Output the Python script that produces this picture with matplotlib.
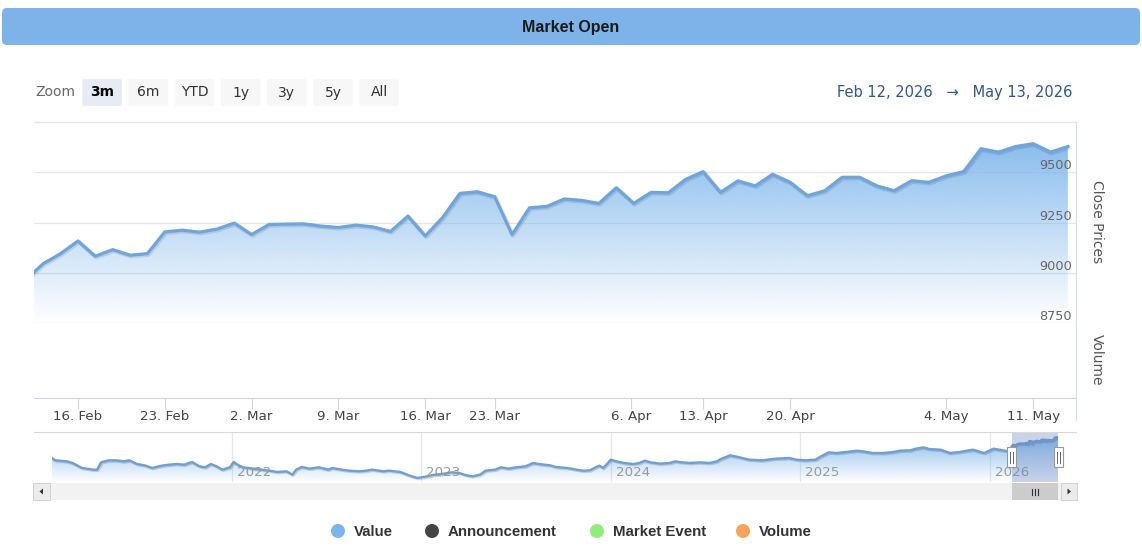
import numpy as np
import pandas as pd
import matplotlib
matplotlib.use("Agg")
import matplotlib.pyplot as plt
from matplotlib.patches import FancyBboxPatch, Rectangle, Circle, Polygon
from matplotlib import transforms as mtransforms
from matplotlib.colors import to_rgb

plt.rcParams["font.family"] = ["DejaVu Sans"]

W, H = 1142, 558

# --- data -------------------------------------------------------------
# trading days shown in the 3m window (Feb 11 is just left of the edge)
first_day, last_day = "2026-02-11", "2026-05-13"
holidays = ["2026-03-20", "2026-04-02", "2026-04-03", "2026-04-06", "2026-05-01"]

close_prices = [
    8965,
    9045, 9095, 9158, 9082, 9115, 9087, 9095, 9203, 9212, 9202,
    9217, 9247, 9190, 9240, 9242, 9243, 9232, 9225, 9237, 9228,
    9205, 9282, 9183, 9275, 9395, 9403, 9378, 9190, 9323, 9330,
    9367, 9360, 9345, 9423, 9345, 9400, 9398, 9465, 9503, 9400,
    9457, 9432, 9490, 9450, 9383, 9408, 9475, 9475, 9432, 9408,
    9458, 9450, 9482, 9503, 9617, 9600, 9628, 9642, 9600, 9628,
]

tick_dates = ["2026-02-16", "2026-02-23", "2026-03-02", "2026-03-09", "2026-03-16",
              "2026-03-23", "2026-04-06", "2026-04-13", "2026-04-20", "2026-05-04",
              "2026-05-11"]
price_labels = [8750, 9000, 9250, 9500]
price_grid = [8750, 9000, 9250, 9500, 9750]

# navigator history (decimal year, close) up to the 3m window
nav_years = [
    2021.05, 2021.07, 2021.13, 2021.16, 2021.21, 2021.27, 2021.29, 2021.31, 2021.35, 2021.39,
    2021.43, 2021.46, 2021.50, 2021.54, 2021.58, 2021.63, 2021.67, 2021.71, 2021.75, 2021.79,
    2021.83, 2021.86, 2021.89, 2021.92, 2021.95, 2021.99, 2022.01, 2022.03, 2022.06, 2022.09,
    2022.15, 2022.20, 2022.24, 2022.29, 2022.32, 2022.34, 2022.37, 2022.41, 2022.46, 2022.51,
    2022.53, 2022.58, 2022.62, 2022.67, 2022.71, 2022.74, 2022.80, 2022.83, 2022.89, 2022.94,
    2022.98, 2023.03, 2023.07, 2023.11, 2023.16, 2023.20, 2023.24, 2023.27, 2023.31, 2023.34,
    2023.39, 2023.42, 2023.46, 2023.50, 2023.55, 2023.59, 2023.62, 2023.68, 2023.71, 2023.77,
    2023.82, 2023.85, 2023.89, 2023.92, 2023.94, 2023.96, 2023.98, 2024.00, 2024.03, 2024.07,
    2024.12, 2024.15, 2024.18, 2024.21, 2024.26, 2024.31, 2024.34, 2024.36, 2024.42, 2024.47,
    2024.52, 2024.56, 2024.58, 2024.63, 2024.68, 2024.73, 2024.80, 2024.87, 2024.94, 2024.98,
    2025.03, 2025.08, 2025.11, 2025.15, 2025.19, 2025.24, 2025.30, 2025.33, 2025.38, 2025.44,
    2025.49, 2025.53, 2025.58, 2025.61, 2025.65, 2025.68, 2025.74, 2025.79, 2025.84, 2025.88,
    2025.91, 2025.97, 2026.02, 2026.05, 2026.10,
]
nav_values = [
    8296, 8145, 8080, 7972, 7646, 7538, 7538, 8015, 8145, 8145,
    8080, 8145, 7906, 7820, 7646, 7798, 7863, 7906, 7863, 8036,
    7755, 7690, 7906, 7755, 7538, 7690, 8036, 7863, 7690, 7646,
    7538, 7473, 7386, 7430, 7213, 7538, 7711, 7603, 7690, 7538,
    7646, 7538, 7473, 7430, 7473, 7538, 7430, 7473, 7386, 7148,
    6996, 7105, 7213, 7256, 7365, 7321, 7170, 7105, 7213, 7473,
    7538, 7690, 7603, 7690, 7755, 7972, 7906, 7820, 7711, 7646,
    7538, 7473, 7495, 7690, 7798, 7646, 7906, 8188, 8080, 7972,
    7906, 7972, 8123, 8015, 7928, 7972, 8080, 8036, 7972, 8015,
    7972, 8080, 8231, 8470, 8340, 8188, 8145, 8253, 8296, 8188,
    8145, 8188, 8405, 8665, 8621, 8686, 8773, 8730, 8621, 8621,
    8686, 8773, 8795, 8903, 8990, 8881, 8838, 8621, 8686, 8773,
    8838, 8621, 8903, 8838, 8730,
]
nav_year_ticks = [2022, 2023, 2024, 2025, 2026]

zoom_buttons = ["3m", "6m", "YTD", "1y", "3y", "5y", "All"]
selected_button = "3m"
legend_names = ["Value", "Announcement", "Market Event", "Volume"]
legend_colors = ["#7cb5ec", "#434348", "#90ed7d", "#f7a35c"]
header_text = "Market Open"

# --- helpers ----------------------------------------------------------
def px_rect(x0, y0, x1, y1):
    return [x0 / W, 1 - y1 / H, (x1 - x0) / W, (y1 - y0) / H]


def gradient_area(ax, x, y, base, top, color, a_top, a_bot, z=1):
    xmin, xmax = ax.get_xlim()
    grad = np.zeros((256, 1, 4))
    grad[..., :3] = to_rgb(color)
    grad[:, 0, 3] = np.linspace(a_top, a_bot, 256)
    im = ax.imshow(grad, aspect="auto", extent=(xmin, xmax, base, top),
                   origin="upper", zorder=z, interpolation="bilinear")
    poly = ax.fill_between(x, y, base, facecolor="none", edgecolor="none")
    im.set_clip_path(poly.get_paths()[0], transform=ax.transData)
    ax.set_xlim(xmin, xmax)
    ax.set_ylim(base, top)


def dec_year(d):
    return d.year + (d.dayofyear - 1) / 365.0


# trading calendar -> ordinal positions
days = pd.bdate_range(first_day, last_day)
days = days[~days.isin(pd.to_datetime(holidays))]
xs = np.arange(len(days))
day_num = days.map(pd.Timestamp.toordinal).values
tick_ts = pd.to_datetime(tick_dates)
tick_pos = np.interp([t.toordinal() for t in tick_ts], day_num, xs)
tick_lbl = [f"{t.day}. {t.strftime('%b')}" for t in tick_ts]

fig = plt.figure(figsize=(W / 100, H / 100), dpi=100)
fig.patch.set_facecolor("white")

# --- price pane -------------------------------------------------------
ax_p = fig.add_axes(px_rect(34, 122, 1076, 323))
ax_p.set_xlim(0.47, xs[-1] + 0.47)
ax_p.set_ylim(price_grid[0], price_grid[-1])
gradient_area(ax_p, xs, close_prices, price_grid[0], price_grid[-1],
              "#7cb5ec", 1.0, 0.0)
for g in price_grid:
    ax_p.axhline(g, color="#e6e6e6", lw=0.9, zorder=0.5, clip_on=False)
shadow = ax_p.transData + mtransforms.ScaledTranslation(1 / 100, -1 / 100, fig.dpi_scale_trans)
ax_p.plot(xs, close_prices, color="black", alpha=0.10, lw=3.2, transform=shadow, zorder=2)
ax_p.plot(xs, close_prices, color="#6fa5dc", lw=2.3, zorder=3, solid_joinstyle="round")
lbl_tr = mtransforms.blended_transform_factory(ax_p.transAxes, ax_p.transData)
for v in price_labels:
    ax_p.text(0.9962, v, f"{v}", transform=lbl_tr, ha="right", va="bottom",
              fontsize=9.3, color="#666666", zorder=4)
for s in ["top", "bottom", "left"]:
    ax_p.spines[s].set_visible(False)
ax_p.spines["right"].set_color("#d8dcec")
ax_p.set_xticks([])
ax_p.set_yticks([])

# --- volume pane (empty) ---------------------------------------------
ax_v = fig.add_axes(px_rect(34, 323, 1076, 398), sharex=ax_p)
ax_v.set_ylim(0, 1)
for s in ["top", "left"]:
    ax_v.spines[s].set_visible(False)
ax_v.spines["right"].set_color("#d8dcec")
ax_v.spines["bottom"].set_color("#ccd6eb")
ax_v.set_yticks([])
ax_v.set_xticks(tick_pos)
ax_v.set_xticklabels(tick_lbl)
ax_v.tick_params(axis="x", length=7.9, width=0.8, color="#ccd6eb",
                 labelsize=9.6, labelcolor="#444444", pad=1)

fig.text(1097 / W, 1 - 222 / H, "Close Prices", rotation=-90, ha="center",
         va="center", fontsize=10, color="#555555")
fig.text(1097 / W, 1 - 360 / H, "Volume", rotation=-90, ha="center",
         va="center", fontsize=10, color="#555555")

# --- navigator --------------------------------------------------------
main_years = [dec_year(d) for d in days]
nav_x = list(nav_years) + main_years
nav_y = list(nav_values) + close_prices
nav_left, nav_right = 51.7, 1058.3
ax_n = fig.add_axes(px_rect(nav_left, 432, nav_right, 482))
ax_n.set_xlim(nav_x[0], nav_x[-1])
ax_n.set_ylim(6736, 9987)
gradient_area(ax_n, nav_x, nav_y, 6736, 9987, "#7cb5ec", 1.0, 0.0)
nav_shadow = ax_n.transData + mtransforms.ScaledTranslation(1 / 100, -1 / 100, fig.dpi_scale_trans)
ax_n.plot(nav_x, nav_y, color="black", alpha=0.15, lw=2.0, transform=nav_shadow, zorder=2)
ax_n.plot(nav_x, nav_y, color="#6f9fd3", lw=1.7, zorder=3)
yr_tr = mtransforms.blended_transform_factory(ax_n.transData, ax_n.transAxes)
yr_off = yr_tr + mtransforms.ScaledTranslation(5 / 100, 0, fig.dpi_scale_trans)
for yv in nav_year_ticks:
    ax_n.axvline(yv, color="#e6e6e6", lw=0.9, zorder=0.5)
    ax_n.text(yv, 0.2, str(yv), transform=yr_off, ha="left", va="center",
              fontsize=9.6, color="#999999", zorder=4)
sel_start, sel_end = main_years[1], main_years[-1]
ax_n.axvspan(sel_start, sel_end, color=(102 / 255, 133 / 255, 194 / 255),
             alpha=0.35, lw=0, zorder=5)
ax_n.axis("off")


def nav_px(xv):
    return nav_left + (xv - nav_x[0]) / (nav_x[-1] - nav_x[0]) * (nav_right - nav_left)


# --- UI overlay (header, buttons, scrollbar, legend) -------------------
ui = fig.add_axes([0, 0, 1, 1], zorder=10)
ui.set_xlim(0, W)
ui.set_ylim(H, 0)
ui.axis("off")

ui.add_patch(FancyBboxPatch((2, 8), 1138, 37, boxstyle="round,pad=0,rounding_size=5",
                            fc="#7db3e8", ec="none"))
ui.text(571, 27.5, header_text, ha="center", va="center", fontsize=11.5,
        fontweight="bold", family=["Liberation Sans", "DejaVu Sans"], color="#1a1a1a")

ui.text(35, 92.5, "Zoom", ha="left", va="center", fontsize=10, color="#666666")
for i, b in enumerate(zoom_buttons):
    bx = 82.3 + i * 46.2
    sel = b == selected_button
    ui.add_patch(FancyBboxPatch((bx, 79), 39.5, 27, boxstyle="round,pad=0,rounding_size=2",
                                fc="#e6ebf5" if sel else "#f7f7f7", ec="none"))
    ui.text(bx + 19.75, 92.5, b, ha="center", va="center", fontsize=10,
            fontweight="bold" if sel else "normal", color="#000000" if sel else "#333333")

ui.text(1072, 92, f"{days[1].strftime('%b')} {days[1].day}, {days[1].year}   \u2192   "
        f"{days[-1].strftime('%b')} {days[-1].day}, {days[-1].year}",
        ha="right", va="center", fontsize=10.5, color="#335588")

# right border continues a little below the x axis
ui.plot([1076, 1076], [398, 420], color="#d8dcec", lw=0.8)

# navigator outline and handles
ui.plot([34, 1076], [432, 432], color="#d9d9d9", lw=0.8)
for xv in (sel_start, sel_end):
    hx = nav_px(xv)
    ui.add_patch(Rectangle((hx - 4.5, 447), 9, 20, fc="white", ec="#999999", lw=0.8))
    for dx in (-1.3, 1.3):
        ui.plot([hx + dx, hx + dx], [451.5, 462.5], color="#666666", lw=0.7)

# scrollbar
ui.add_patch(Rectangle((50, 483), 1011, 17, fc="#f2f2f2", ec="none"))
ui.add_patch(Rectangle((33, 483), 17, 17, fc="#ebebeb", ec="#cccccc", lw=0.6))
ui.add_patch(Rectangle((1061, 483), 16, 17, fc="#ebebeb", ec="#cccccc", lw=0.6))
ui.add_patch(Polygon([(39.5, 491.5), (43, 488.5), (43, 494.5)], fc="#333333", ec="none"))
ui.add_patch(Polygon([(1071, 491.5), (1067.5, 488.5), (1067.5, 494.5)], fc="#333333", ec="none"))
tx0, tx1 = nav_px(sel_start), nav_px(sel_end)
ui.add_patch(Rectangle((tx0, 483), tx1 - tx0, 17, fc="#cccccc", ec="none"))
tc = (tx0 + tx1) / 2
for dx in (-3, 0, 3):
    ui.plot([tc + dx, tc + dx], [488.5, 494.5], color="#333333", lw=0.8)

# legend
legend_x = [338, 432, 597, 743]
for name, col, lx in zip(legend_names, legend_colors, legend_x):
    ui.add_patch(Circle((lx, 531), 7, fc=col, ec="none"))
    ui.text(lx + 16, 531.5, name, ha="left", va="center", fontsize=10.8,
            fontweight="bold", family=["Liberation Sans", "DejaVu Sans"], color="#333333")

fig.savefig("out.png", dpi=100)
